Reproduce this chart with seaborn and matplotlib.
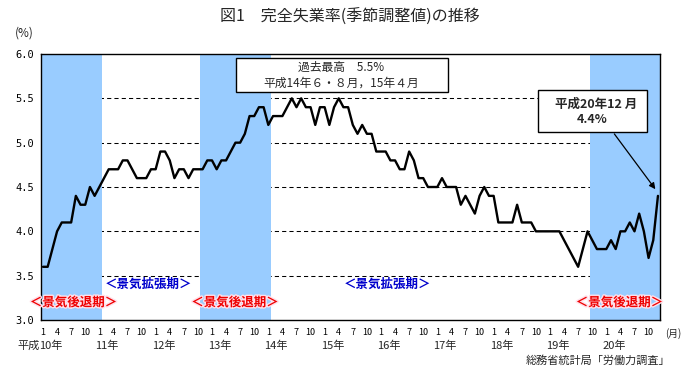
import numpy as np # matematikk
import pandas as pd # data
import seaborn as sns # plotting
import matplotlib.pyplot as plt # og mer plotting
from matplotlib.patches import Rectangle
import matplotlib.patheffects as pe

sns.set_style('white')
plt.rcParams['font.family'] = ['Noto Sans CJK JP', 'DejaVu Sans']

# 完全失業率 (季節調整値, %), 1月〜12月
rate_h10 = [3.6, 3.6, 3.8, 4.0, 4.1, 4.1, 4.1, 4.4, 4.3, 4.3, 4.5, 4.4]
rate_h11 = [4.5, 4.6, 4.7, 4.7, 4.7, 4.8, 4.8, 4.7, 4.6, 4.6, 4.6, 4.7]
rate_h12 = [4.7, 4.9, 4.9, 4.8, 4.6, 4.7, 4.7, 4.6, 4.7, 4.7, 4.7, 4.8]
rate_h13 = [4.8, 4.7, 4.8, 4.8, 4.9, 5.0, 5.0, 5.1, 5.3, 5.3, 5.4, 5.4]
rate_h14 = [5.2, 5.3, 5.3, 5.3, 5.4, 5.5, 5.4, 5.5, 5.4, 5.4, 5.2, 5.4]
rate_h15 = [5.4, 5.2, 5.4, 5.5, 5.4, 5.4, 5.2, 5.1, 5.2, 5.1, 5.1, 4.9]
rate_h16 = [4.9, 4.9, 4.8, 4.8, 4.7, 4.7, 4.9, 4.8, 4.6, 4.6, 4.5, 4.5]
rate_h17 = [4.5, 4.6, 4.5, 4.5, 4.5, 4.3, 4.4, 4.3, 4.2, 4.4, 4.5, 4.4]
rate_h18 = [4.4, 4.1, 4.1, 4.1, 4.1, 4.3, 4.1, 4.1, 4.1, 4.0, 4.0, 4.0]
rate_h19 = [4.0, 4.0, 4.0, 3.9, 3.8, 3.7, 3.6, 3.8, 4.0, 3.9, 3.8, 3.8]
rate_h20 = [3.8, 3.9, 3.8, 4.0, 4.0, 4.1, 4.0, 4.2, 4.0, 3.7, 3.9, 4.4]

years = ['10年', '11年', '12年', '13年', '14年', '15年', '16年', '17年', '18年', '19年', '20年']
month_labels = ['1', '4', '7', '10']
y_ticks = [3.0, 3.5, 4.0, 4.5, 5.0, 5.5, 6.0]

# 景気後退期 (開始月, 終了月) — 平成10年1月を0とした月番号
recession_start = [0, 34, 117]
recession_end = [12, 48, 131]

rates = (rate_h10 + rate_h11 + rate_h12 + rate_h13 + rate_h14 + rate_h15
         + rate_h16 + rate_h17 + rate_h18 + rate_h19 + rate_h20)
df = pd.DataFrame({'month': np.arange(len(rates)), 'rate': rates})

W, H = 700, 374
fig = plt.figure(figsize=(W / 100, H / 100), dpi=100)
ax = fig.add_axes([41.3 / W, 1 - 320 / H, 619 / W, 266 / H])

# 点線の目盛線 (網掛けの下)
for v in y_ticks[1:-1]:
    ax.axhline(v, color='black', lw=0.75, ls=(0, (4, 3)), zorder=0.5)

# 景気後退期の網掛け
for s, e in zip(recession_start, recession_end):
    ax.axvspan(s - 0.5, e + 0.5, color='#99ccff', lw=0, zorder=1)

sns.lineplot(data=df, x='month', y='rate', color='black', lw=1.7, ax=ax, zorder=3)

ax.set_xlim(-0.36, 131.5)
ax.set_ylim(3.0, 6.0)
ax.set_xlabel('')
ax.set_ylabel('')

ax.set_xticks(np.arange(0, len(rates), 3))
ax.set_xticklabels(month_labels * len(years), fontsize=6.5)
ax.set_yticks(y_ticks)
ax.set_yticklabels([f'{v:.1f}' for v in y_ticks], fontsize=7.5, family='DejaVu Sans Mono')
ax.tick_params(axis='x', direction='in', length=4, width=0.8, pad=6, colors='black')
ax.tick_params(axis='y', direction='in', length=3, width=0.8, pad=5, colors='black')
for sp in ax.spines.values():
    sp.set_color('black')
    sp.set_linewidth(1.0)
    sp.set_zorder(4)

# 年ラベル
for k, yr in enumerate(years):
    ax.text(12 * k - 0.8, -0.097, yr, transform=ax.get_xaxis_transform(),
            ha='left', va='center', fontsize=8)
ax.text(-0.8, -0.097, '平成', transform=ax.get_xaxis_transform(),
        ha='right', va='center', fontsize=8)
ax.text(1.008, -0.049, '(月)', transform=ax.transAxes, ha='left', va='center', fontsize=7)

# 景気期間ラベル
red_kw = dict(color='#ee0000', fontsize=9, fontweight='bold', ha='center', va='center', zorder=5,
              path_effects=[pe.withStroke(linewidth=2, foreground='#ffe0ea')])
blue_kw = dict(color='#0000cc', fontsize=9, fontweight='bold', ha='center', va='center', zorder=5)
for xc in [6.5, 40.9, 122.8]:
    ax.text(xc, 3.195, '＜景気後退期＞', **red_kw)
for xc in [22.5, 73.3]:
    ax.text(xc, 3.40, '＜景気拡張期＞', **blue_kw)

# 注記ボックス
fig.patches.append(Rectangle((235.7 / W, 1 - 92 / H), 212.3 / W, 34 / H, transform=fig.transFigure,
                             facecolor='white', edgecolor='black', lw=1, zorder=6))
fig.text(341 / W, 1 - 67.5 / H, '過去最高　5.5%', ha='center', va='center', fontsize=8.5, zorder=7)
fig.text(341 / W, 1 - 83.5 / H, '平成14年６・８月，15年４月', ha='center', va='center', fontsize=8.5, zorder=7)

fig.patches.append(Rectangle((538 / W, 1 - 132 / H), 109 / W, 42 / H, transform=fig.transFigure,
                             facecolor='white', edgecolor='black', lw=1, zorder=6))
fig.text(596 / W, 1 - 104 / H, '平成20年12 月', ha='center', va='center', fontsize=9,
         fontweight='bold', zorder=7)
fig.text(592 / W, 1 - 120 / H, '4.4%', ha='center', va='center', fontsize=9,
         fontweight='bold', zorder=7)
ax.annotate('', xy=(130.8, 4.45), xytext=(612.7, H - 131.7), textcoords='figure pixels',
            arrowprops=dict(arrowstyle='-|>', color='black', lw=0.9, mutation_scale=9),
            zorder=6, annotation_clip=False)

# タイトル等
fig.text(0.5, 1 - 17 / H, '図1　完全失業率(季節調整値)の推移', ha='center', va='center', fontsize=11.5)
fig.text(24 / W, 1 - 33 / H, '(%)', ha='center', va='center', fontsize=8.5)
fig.text(670 / W, 1 - 361 / H, '総務省統計局「労働力調査」', ha='right', va='center', fontsize=8)

fig.savefig('out.png', dpi=100)
